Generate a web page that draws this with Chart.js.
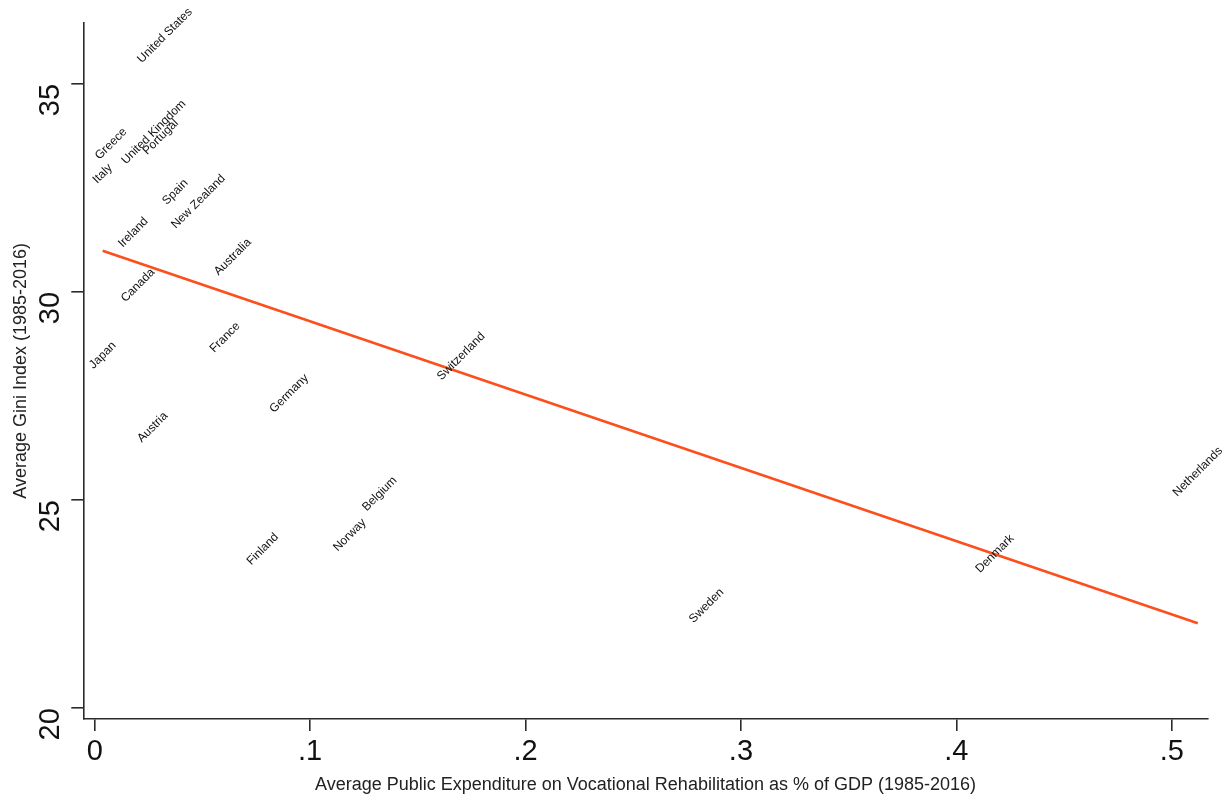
<!DOCTYPE html>
<html>
<head>
<meta charset="utf-8">
<script src="https://cdn.jsdelivr.net/npm/chart.js@4.4.1/dist/chart.umd.min.js"></script>
<style>
  html, body { margin: 0; padding: 0; background: #fff; }
  #wrap { width: 1224px; height: 796px; }
</style>
</head>
<body>
<div id="wrap"><canvas id="gini-chart" width="1224" height="796"></canvas></div>
<script>
// country labels sit centred on their (invisible) points
var countries = ['United States', 'Greece', 'United Kingdom', 'Portugal', 'Italy', 'Spain',
  'New Zealand', 'Ireland', 'Australia', 'Canada', 'Japan', 'France', 'Germany', 'Switzerland',
  'Austria', 'Belgium', 'Norway', 'Finland', 'Sweden', 'Denmark', 'Netherlands'];
var spending = [0.0326, 0.0076, 0.0274, 0.0306, 0.0037, 0.0374,
  0.0481, 0.0179, 0.0641, 0.0201, 0.0037, 0.0605, 0.0903, 0.1701,
  0.0269, 0.1323, 0.1184, 0.0780, 0.2840, 0.4179, 0.5121];
var gini = [36.16, 33.56, 33.84, 33.72, 32.84, 32.40,
  32.17, 31.43, 30.84, 30.16, 28.48, 28.91, 27.56, 28.45,
  26.75, 25.15, 24.16, 23.82, 22.46, 23.71, 25.68];

// linear fit, end points
var fitX = [0.0037, 0.5121];
var fitY = [30.99, 22.04];

var xTicks = [0, 0.1, 0.2, 0.3, 0.4, 0.5];
var yTicks = [20, 25, 30, 35];

var axisColor = '#2b2b2b';
var fitColor = '#fc4f1c';

var labelPlugin = {
  id: 'countryLabels',
  afterDatasetsDraw: function (chart) {
    var ctx = chart.ctx,
      meta = chart.getDatasetMeta(0);
    ctx.save();
    ctx.font = '12px "Liberation Sans", Arial, sans-serif';
    ctx.fillStyle = '#111';
    ctx.textAlign = 'center';
    ctx.textBaseline = 'middle';
    meta.data.forEach(function (pt, i) {
      ctx.save();
      ctx.translate(pt.x, pt.y);
      ctx.rotate(-Math.PI / 4);
      ctx.fillText(countries[i], 0, 0);
      ctx.restore();
    });
    ctx.restore();
  }
};

var pts = spending.map(function (v, i) { return { x: v, y: gini[i] }; });
var fit = fitX.map(function (v, i) { return { x: v, y: fitY[i] }; });

new Chart(document.getElementById('gini-chart').getContext('2d'), {
  type: 'scatter',
  data: {
    datasets: [
      {
        label: 'Countries',
        data: pts,
        pointRadius: 0,
        pointHoverRadius: 0
      },
      {
        type: 'line',
        label: 'Fitted values',
        data: fit,
        borderColor: fitColor,
        borderWidth: 2.6,
        pointRadius: 0,
        fill: false
      }
    ]
  },
  options: {
    responsive: false,
    animation: false,
    layout: { padding: { left: 0, top: 22.7, right: 16.3, bottom: 0 } },
    plugins: { legend: { display: false }, tooltip: { enabled: false } },
    scales: {
      x: {
        type: 'linear',
        min: -0.0053,
        max: 0.5167,
        afterFit: function (s) { s.height = 77; s.paddingLeft = 0; s.paddingRight = 0; },
        afterBuildTicks: function (s) { s.ticks = xTicks.map(function (v) { return { value: v }; }); },
        border: { display: true, color: axisColor, width: 1.6 },
        grid: { drawOnChartArea: false, drawTicks: true, tickLength: 12, tickColor: axisColor, lineWidth: 1.6 },
        ticks: {
          maxRotation: 0,
          padding: 4,
          color: '#111',
          font: { family: '"Liberation Sans", Arial, sans-serif', size: 29 },
          callback: function (v) { return v === 0 ? '0' : v.toFixed(1).replace(/^0/, ''); }
        },
        title: {
          display: true,
          text: 'Average Public Expenditure on Vocational Rehabilitation as % of GDP (1985-2016)',
          color: '#222',
          font: { family: '"Liberation Sans", Arial, sans-serif', size: 18 },
          padding: { top: 7, bottom: 0 }
        }
      },
      y: {
        type: 'linear',
        min: 19.74,
        max: 36.47,
        afterFit: function (s) { s.width = 83.3; s.paddingTop = 0; s.paddingBottom = 0; },
        afterBuildTicks: function (s) { s.ticks = yTicks.map(function (v) { return { value: v }; }); },
        border: { display: true, color: axisColor, width: 1.6 },
        grid: { drawOnChartArea: false, drawTicks: true, tickLength: 12, tickColor: axisColor, lineWidth: 1.6 },
        ticks: {
          minRotation: 90,
          maxRotation: 90,
          padding: 20,
          color: '#111',
          font: { family: '"Liberation Sans", Arial, sans-serif', size: 29 }
        },
        title: {
          display: true,
          text: 'Average Gini Index (1985-2016)',
          color: '#222',
          font: { family: '"Liberation Sans", Arial, sans-serif', size: 18 },
          padding: { top: 10, bottom: 0 }
        }
      }
    }
  },
  plugins: [labelPlugin]
});
</script>
</body>
</html>
